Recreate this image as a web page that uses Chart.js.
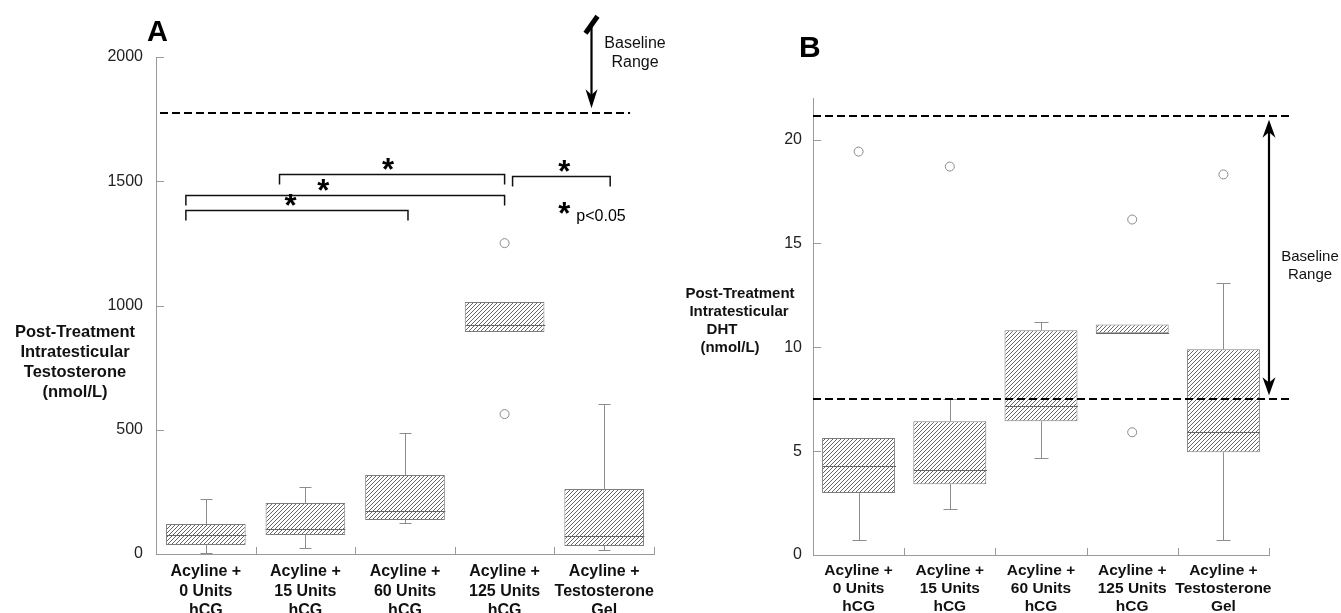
<!DOCTYPE html>
<html><head><meta charset="utf-8">
<script src="https://cdn.jsdelivr.net/npm/chart.js@4.4.1/dist/chart.umd.min.js"></script>
<style>
html,body{margin:0;padding:0;background:#fff;}
#wrap{position:relative;width:1341px;height:613px;overflow:hidden;background:#fff;}
canvas{position:absolute;left:0;top:0;}
</style></head><body>
<div id="wrap"><canvas id="cA" width="1341" height="613"></canvas><canvas id="cB" width="1341" height="613"></canvas></div>
<script>
const FONT = '"Liberation Sans", Arial, Helvetica, sans-serif';
const categories = [["Acyline +","0 Units","hCG"],["Acyline +","15 Units","hCG"],["Acyline +","60 Units","hCG"],["Acyline +","125 Units","hCG"],["Acyline +","Testosterone","Gel"]];

// Panel A - post-treatment intratesticular testosterone (nmol/L)
const testoWhiskerLow  = [3, 24, 125, 893, 16];
const testoQ1          = [36, 76, 137, 893, 32];
const testoMedian      = [76, 100, 173, 921, 72];
const testoQ3          = [121, 205, 318, 1014, 262];
const testoWhiskerHigh = [221, 270, 487, 1014, 603];
const testoOutlierHigh = [null, null, null, 1251, null];
const testoOutlierLow  = [null, null, null, 563, null];
const testoBaselineLow = 1774;
const testoTicks = [0, 500, 1000, 1500, 2000];
// significance brackets (category positions and level)
const sigFrom   = [0.74, -0.2, -0.2, 3.08];
const sigTo     = [3.0, 3.0, 2.03, 4.06];
const sigLevel  = [1529, 1444, 1384, 1521];
const sigStarAt = [1.83, 1.18, 0.85, 3.6];

// Panel B - post-treatment intratesticular DHT (nmol/L)
const dhtWhiskerLow  = [0.72, 2.21, 4.66, 10.67, 0.72];
const dhtQ1          = [2.98, 3.41, 6.44, 10.67, 4.95];
const dhtMedian      = [4.28, 4.09, 7.16, 10.7, 5.91];
const dhtQ3          = [5.63, 6.44, 10.82, 11.1, 9.9];
const dhtWhiskerHigh = [5.63, 7.5, 11.2, 11.1, 13.08];
const dhtOutlierHigh = [19.42, 18.7, null, 16.15, 18.32];
const dhtOutlierLow  = [null, null, null, 5.91, null];
const dhtBaselineHigh = 21.15;
const dhtBaselineLow  = 7.5;
const dhtTicks = [0, 5, 10, 15, 20];

function makeHatch(ctx){
  const s = 4;
  const c = document.createElement('canvas'); c.width = s; c.height = s;
  const g = c.getContext('2d');
  g.fillStyle = '#fff'; g.fillRect(0,0,s,s);
  g.strokeStyle = '#555'; g.lineWidth = 0.9;
  g.beginPath();
  g.moveTo(0,s); g.lineTo(s,0);
  g.moveTo(-1,1); g.lineTo(1,-1);
  g.moveTo(s-1,s+1); g.lineTo(s+1,s-1);
  g.stroke();
  return ctx.createPattern(c,'repeat');
}

function seg(ctx,x1,y1,x2,y2){ ctx.beginPath(); ctx.moveTo(x1,y1); ctx.lineTo(x2,y2); ctx.stroke(); }

function arrowHead(ctx,x,y,dir,len,w){
  // dir = 1 pointing down, -1 pointing up ; (x,y) tip
  ctx.beginPath();
  ctx.moveTo(x,y);
  ctx.lineTo(x-w/2, y-dir*len);
  ctx.lineTo(x, y-dir*len*0.7);
  ctx.lineTo(x+w/2, y-dir*len);
  ctx.closePath(); ctx.fill();
}

function dashed(ctx,xs,ys,x0,x1,v){
  const y = Math.round(ys.getPixelForValue(v));
  ctx.save(); ctx.strokeStyle='#000'; ctx.lineWidth=2; ctx.setLineDash([8,4]);
  seg(ctx, xs.getPixelForValue(x0), y, xs.getPixelForValue(x1), y);
  ctx.restore();
}

function boxPlugin(cfg){
  return {
    id: 'boxExtras',
    afterDatasetsDraw(chart){
      const {ctx} = chart; const x = chart.scales.x, y = chart.scales.y;
      const meta = chart.getDatasetMeta(2);
      ctx.save();
      ctx.lineWidth = 1;
      cfg.q1.forEach((q1,i)=>{
        const bar = meta.data[i];
        const cx = Math.round(x.getPixelForValue(i)) + 0.5;
        const hw = bar.width/2;
        ctx.strokeStyle = '#666';
        const ym = Math.round(y.getPixelForValue(cfg.med[i])) + 0.5;
        seg(ctx, cx-hw, ym, cx+hw, ym);
        ctx.strokeStyle = '#8c8c8c';
        if (cfg.wHigh[i] > cfg.q3[i]){
          const yt = Math.round(y.getPixelForValue(cfg.wHigh[i])) + 0.5;
          seg(ctx, cx, y.getPixelForValue(cfg.q3[i]), cx, yt);
          seg(ctx, cx-cfg.cap, yt, cx+cfg.cap, yt);
        }
        if (cfg.wLow[i] < q1){
          const yb = Math.round(y.getPixelForValue(cfg.wLow[i])) + 0.5;
          seg(ctx, cx, y.getPixelForValue(q1), cx, yb);
          seg(ctx, cx-cfg.cap, yb, cx+cfg.cap, yb);
        }
      });
      ctx.restore();
    },
    afterDraw(chart){
      const {ctx, chartArea:a} = chart; const x = chart.scales.x, y = chart.scales.y;
      ctx.save();
      ctx.strokeStyle = '#9a9a9a'; ctx.lineWidth = 1;
      y.ticks.forEach(t=>{
        const py = Math.round(y.getPixelForValue(t.value)) + 0.5;
        seg(ctx, a.left, py, a.left+8, py);
      });
      for (let i=1;i<=categories.length;i++){
        const px = Math.round(x.getPixelForValue(i-0.5)) + 0.5;
        seg(ctx, px, a.bottom, px, a.bottom-7);
      }
      ctx.restore();
      ctx.save();
      cfg.annotate(chart, ctx, x, y);
      ctx.restore();
    }
  };
}

function boxChart(id, cfg){
  const canvas = document.getElementById(id);
  const ctx = canvas.getContext('2d');
  const pattern = makeHatch(ctx);
  const outlier = d => ({type:'line', data:d, showLine:false, pointRadius:4.5, pointHoverRadius:4.5,
    pointBackgroundColor:'#fff', pointBorderColor:'#8a8a8a', pointBorderWidth:1, order:0});
  return new Chart(ctx, {
    type: 'bar',
    data: {
      labels: categories,
      datasets: [
        outlier(cfg.outHigh),
        outlier(cfg.outLow),
        {type:'bar', data: cfg.q1.map((v,i)=>[v, cfg.q3[i]]), backgroundColor: pattern,
         borderColor:'#7c7c7c', borderWidth:1, borderSkipped:false,
         barPercentage:0.8, categoryPercentage:1.0, order:1}
      ]
    },
    options: {
      responsive:false, animation:false,
      layout:{padding:cfg.padding},
      plugins:{legend:{display:false}, tooltip:{enabled:false}},
      scales:{
        x:{type:'category', offset:true,
           grid:{display:false, drawTicks:false},
           border:{display:true, color:'#9a9a9a', width:1},
           ticks:{font:{family:FONT, size:cfg.xFont, weight:'bold', lineHeight:cfg.xLine}, color:'#111',
                  maxRotation:0, minRotation:0, autoSkip:false, padding:cfg.xPad},
           afterFit(s){ s.height = cfg.xHeight; }},
        y:{type:'linear', min:cfg.min, max:cfg.max,
           grid:{display:false, drawTicks:false},
           border:{display:true, color:'#9a9a9a', width:1},
           ticks:{font:{family:FONT, size:16}, color:'#222', padding:cfg.yPad, includeBounds:false,
                  callback:v=>String(v)},
           afterBuildTicks(s){ s.ticks = cfg.ticks.map(v=>({value:v})); },
           afterFit(s){ s.width = cfg.yWidth; }}
      }
    },
    plugins:[boxPlugin(cfg)]
  });
}

function star(ctx, px, py, size){
  ctx.font = 'bold ' + size + 'px ' + FONT;
  ctx.textAlign = 'center'; ctx.textBaseline = 'middle';
  ctx.fillText('*', px, py);
}

boxChart('cA', {
  q1:testoQ1, q3:testoQ3, med:testoMedian, wLow:testoWhiskerLow, wHigh:testoWhiskerHigh,
  outHigh:testoOutlierHigh, outLow:testoOutlierLow, min:0, max:2000, ticks:testoTicks,
  padding:{left:86, right:687, top:57, bottom:0}, yWidth:70, xHeight:59, xFont:16, xLine:1.22, xPad:8, yPad:13, cap:6,
  annotate(chart, ctx, x, y){
    dashed(ctx, x, y, -0.46, 4.26, testoBaselineLow);
    ctx.strokeStyle = '#111'; ctx.fillStyle = '#000'; ctx.lineWidth = 1.5;
    for (let k=0;k<sigLevel.length;k++){
      const py = Math.round(y.getPixelForValue(sigLevel[k])) + 0.5;
      const x0 = x.getPixelForValue(sigFrom[k]), x1 = x.getPixelForValue(sigTo[k]);
      ctx.beginPath(); ctx.moveTo(x0, py+10); ctx.lineTo(x0, py); ctx.lineTo(x1, py); ctx.lineTo(x1, py+10); ctx.stroke();
      star(ctx, x.getPixelForValue(sigStarAt[k]), py - 3, 31);
    }
    // legend "* p<0.05"
    const lx = x.getPixelForValue(3.6), ly = y.getPixelForValue(1384);
    star(ctx, lx, ly + 5, 31);
    ctx.font = '16px ' + FONT; ctx.textAlign = 'left'; ctx.textBaseline = 'middle';
    ctx.fillText('p<0.05', lx + 12, ly + 7);
    // baseline range arrow (open-ended above axis)
    const ax = Math.round(x.getPixelForValue(3.87)) + 0.5;
    const tipY = y.getPixelForValue(testoBaselineLow) - 5;
    const topY = y.getPixelForValue(2128);
    ctx.lineWidth = 2.2; ctx.strokeStyle = '#000';
    seg(ctx, ax, topY, ax, tipY - 10);
    arrowHead(ctx, ax, tipY, 1, 19, 12);
    ctx.lineWidth = 5; ctx.lineCap = 'butt';
    seg(ctx, ax - 6, topY + 8, ax + 6, topY - 9);
    ctx.font = '16px ' + FONT; ctx.textAlign = 'center'; ctx.textBaseline = 'middle'; ctx.fillStyle = '#111';
    ctx.fillText('Baseline', 635, 44);
    ctx.fillText('Range', 635, 63);
    // panel letter
    ctx.font = 'bold 29px ' + FONT; ctx.textAlign = 'left'; ctx.textBaseline = 'alphabetic'; ctx.fillStyle = '#000';
    ctx.fillText('A', 147, 41);
    // y-axis title
    ctx.font = 'bold 16.5px ' + FONT; ctx.textAlign = 'center'; ctx.textBaseline = 'middle'; ctx.fillStyle = '#111';
    ['Post-Treatment','Intratesticular','Testosterone','(nmol/L)'].forEach((t,i)=>ctx.fillText(t, 75, 332 + i*20));
  }
});

boxChart('cB', {
  q1:dhtQ1, q3:dhtQ3, med:dhtMedian, wLow:dhtWhiskerLow, wHigh:dhtWhiskerHigh,
  outHigh:dhtOutlierHigh, outLow:dhtOutlierLow, min:0, max:22, ticks:dhtTicks,
  padding:{left:773, right:72, top:98, bottom:0}, yWidth:40, xHeight:58, xFont:15.5, xLine:1.15, xPad:7, yPad:11, cap:7,
  annotate(chart, ctx, x, y){
    dashed(ctx, x, y, -0.5, 4.76, dhtBaselineHigh);
    dashed(ctx, x, y, -0.5, 4.76, dhtBaselineLow);
    const ax = Math.round(x.getPixelForValue(4.5));
    const yTop = y.getPixelForValue(dhtBaselineHigh) + 4;
    const yBot = y.getPixelForValue(dhtBaselineLow) - 4;
    ctx.strokeStyle = '#000'; ctx.fillStyle = '#000'; ctx.lineWidth = 2.2;
    seg(ctx, ax, yTop + 10, ax, yBot - 10);
    arrowHead(ctx, ax, yTop, -1, 18, 13);
    arrowHead(ctx, ax, yBot, 1, 18, 13);
    ctx.font = '15px ' + FONT; ctx.textAlign = 'center'; ctx.textBaseline = 'middle'; ctx.fillStyle = '#111';
    ctx.fillText('Baseline', 1310, 257);
    ctx.fillText('Range', 1310, 275);
    ctx.font = 'bold 30px ' + FONT; ctx.textAlign = 'left'; ctx.textBaseline = 'alphabetic'; ctx.fillStyle = '#000';
    ctx.fillText('B', 799, 57);
    ctx.font = 'bold 15px ' + FONT; ctx.textAlign = 'center'; ctx.textBaseline = 'middle'; ctx.fillStyle = '#111';
    const lines = ['Post-Treatment','Intratesticular','DHT','(nmol/L)'];
    const cxs = [740, 739, 722, 730];
    lines.forEach((t,i)=>ctx.fillText(t, cxs[i], 294 + i*18));
  }
});
</script>
</body></html>
